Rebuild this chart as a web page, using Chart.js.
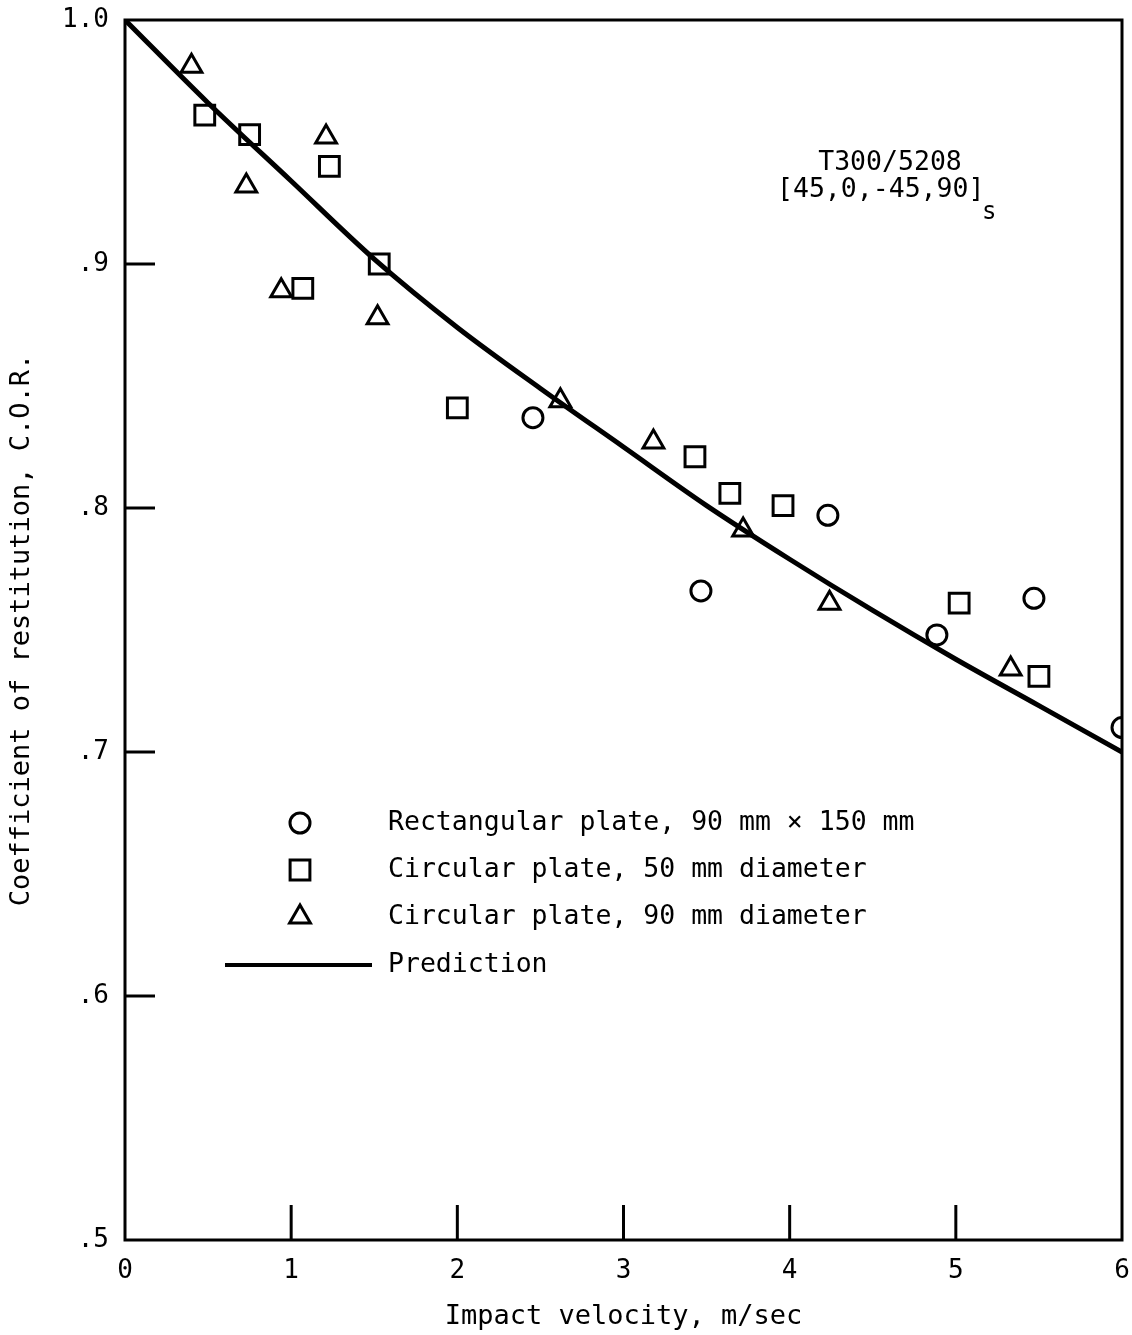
<!DOCTYPE html>
<html>
<head>
<meta charset="utf-8">
<script src="https://cdn.jsdelivr.net/npm/chart.js@4/dist/chart.umd.min.js"></script>
<style>
    html, body { margin: 0; padding: 0; background: #fff; }
</style>
</head>
<body>
<canvas id="chart" width="1132" height="1335"></canvas>
<script>
const rectX = [2.455, 3.466, 4.23, 4.886, 5.47, 6.0];
const rectY = [0.837, 0.766, 0.797, 0.748, 0.763, 0.710];

const circ50X = [0.48, 0.75, 1.23, 1.07, 1.53, 2.0, 3.43, 3.64, 3.96, 5.02, 5.5];
const circ50Y = [0.961, 0.953, 0.940, 0.890, 0.900, 0.841, 0.821, 0.806, 0.801, 0.761, 0.731];

const circ90X = [0.40, 0.73, 1.21, 0.94, 1.52, 2.62, 3.18, 3.72, 4.24, 5.33];
const circ90Y = [0.981, 0.932, 0.952, 0.889, 0.878, 0.844, 0.827, 0.791, 0.761, 0.734];

const predX = [0, 0.5, 1, 1.5, 2, 2.5, 3, 3.5, 4, 4.5, 5, 5.5, 6];
const predY = [1.0, 0.966, 0.934, 0.902, 0.874, 0.849, 0.825, 0.801, 0.779, 0.758, 0.738, 0.719, 0.700];

const xTickLabels = ['0', '1', '2', '3', '4', '5', '6'];
const yTickLabels = ['.5', '.6', '.7', '.8', '.9', '1.0'];

const legendLabels = [
    'Rectangular plate, 90 mm \u00d7 150 mm',
    'Circular plate, 50 mm diameter',
    'Circular plate, 90 mm diameter',
    'Prediction'
];

const FONT = '"DejaVu Sans Mono", "Liberation Mono", monospace';

const pts = (xs, ys) => xs.map((x, i) => ({x: x, y: ys[i]}));

// box, inward ticks, legend and material note
const decor = {
    id: 'decor',
    afterDraw(chart) {
        const ctx = chart.ctx;
        const a = chart.chartArea;
        const xs = chart.scales.x;
        const ys = chart.scales.y;
        ctx.save();
        ctx.strokeStyle = '#000';
        ctx.lineWidth = 3;
        ctx.strokeRect(a.left, a.top, a.right - a.left, a.bottom - a.top);

        for (let v = 1; v <= 5; v++) {
            const px = xs.getPixelForValue(v);
            ctx.beginPath();
            ctx.moveTo(px, a.bottom);
            ctx.lineTo(px, a.bottom - 35);
            ctx.stroke();
        }
        [0.6, 0.7, 0.8, 0.9].forEach(v => {
            const py = ys.getPixelForValue(v);
            ctx.beginPath();
            ctx.moveTo(a.left, py);
            ctx.lineTo(a.left + 30, py);
            ctx.stroke();
        });

        // legend
        ctx.font = '26.5px ' + FONT;
        ctx.textBaseline = 'middle';
        ctx.textAlign = 'left';
        const rows = [823, 870, 917, 965];
        const ds = chart.data.datasets;
        for (let i = 0; i < 3; i++) {
            ctx.fillStyle = 'rgba(0,0,0,0)';
            ctx.lineWidth = ds[i].borderWidth;
            Chart.helpers.drawPoint(ctx, {
                pointStyle: ds[i].pointStyle,
                radius: ds[i].pointRadius,
                rotation: 0,
                borderWidth: ds[i].borderWidth
            }, 300, rows[i]);
            ctx.fillStyle = '#000';
            ctx.fillText(legendLabels[i], 388, rows[i]);
        }
        ctx.lineWidth = 4;
        ctx.beginPath();
        ctx.moveTo(225, rows[3]);
        ctx.lineTo(372, rows[3]);
        ctx.stroke();
        ctx.fillText(legendLabels[3], 388, rows[3]);

        // material note
        ctx.textAlign = 'center';
        ctx.fillText('T300/5208', 890, 163);
        ctx.textAlign = 'left';
        ctx.fillText('[45,0,-45,90]', 777, 190);
        ctx.font = '24px ' + FONT;
        ctx.fillText('s', 982, 213);
        ctx.restore();
    }
};

new Chart(document.getElementById('chart').getContext('2d'), {
    type: 'scatter',
    data: {
        datasets: [
            {
                label: legendLabels[0],
                data: pts(rectX, rectY),
                pointStyle: 'circle',
                pointRadius: 10,
                borderWidth: 3,
                borderColor: '#000',
                backgroundColor: 'rgba(0,0,0,0)'
            },
            {
                label: legendLabels[1],
                data: pts(circ50X, circ50Y),
                pointStyle: 'rect',
                pointRadius: 14,
                borderWidth: 3,
                borderColor: '#000',
                backgroundColor: 'rgba(0,0,0,0)'
            },
            {
                label: legendLabels[2],
                data: pts(circ90X, circ90Y),
                pointStyle: 'triangle',
                pointRadius: 12,
                borderWidth: 3,
                borderColor: '#000',
                backgroundColor: 'rgba(0,0,0,0)'
            },
            {
                type: 'line',
                label: legendLabels[3],
                data: pts(predX, predY),
                borderColor: '#000',
                borderWidth: 5,
                pointRadius: 0,
                fill: false,
                tension: 0.4,
                cubicInterpolationMode: 'monotone'
            }
        ]
    },
    options: {
        responsive: false,
        animation: false,
        devicePixelRatio: 1,
        layout: {autoPadding: false, padding: {left: 0, top: 20, right: 10, bottom: 0}},
        plugins: {
            legend: {display: false},
            tooltip: {enabled: false}
        },
        scales: {
            x: {
                type: 'linear',
                min: 0,
                max: 6,
                ticks: {
                    stepSize: 1,
                    color: '#000',
                    padding: 16,
                    font: {family: FONT, size: 26},
                    callback: (v, i) => xTickLabels[i]
                },
                grid: {display: false, drawTicks: false},
                border: {display: false},
                title: {
                    display: true,
                    text: 'Impact velocity, m/sec',
                    color: '#000',
                    font: {family: FONT, size: 27},
                    padding: {top: 0, bottom: 2}
                },
                afterFit: s => {
                    s.height = 95;
                    s.paddingLeft = 0;
                    s.paddingRight = 0;
                }
            },
            y: {
                type: 'linear',
                min: 0.5,
                max: 1.0,
                ticks: {
                    stepSize: 0.1,
                    color: '#000',
                    padding: 16,
                    font: {family: FONT, size: 26},
                    callback: (v, i) => yTickLabels[i]
                },
                grid: {display: false, drawTicks: false},
                border: {display: false},
                title: {
                    display: true,
                    text: 'Coefficient of restitution, C.O.R.',
                    color: '#000',
                    font: {family: FONT, size: 27},
                    padding: {top: 6, bottom: 0}
                },
                afterFit: s => {
                    s.width = 125;
                    s.paddingTop = 0;
                    s.paddingBottom = 0;
                }
            }
        }
    },
    plugins: [decor]
});
</script>
</body>
</html>
